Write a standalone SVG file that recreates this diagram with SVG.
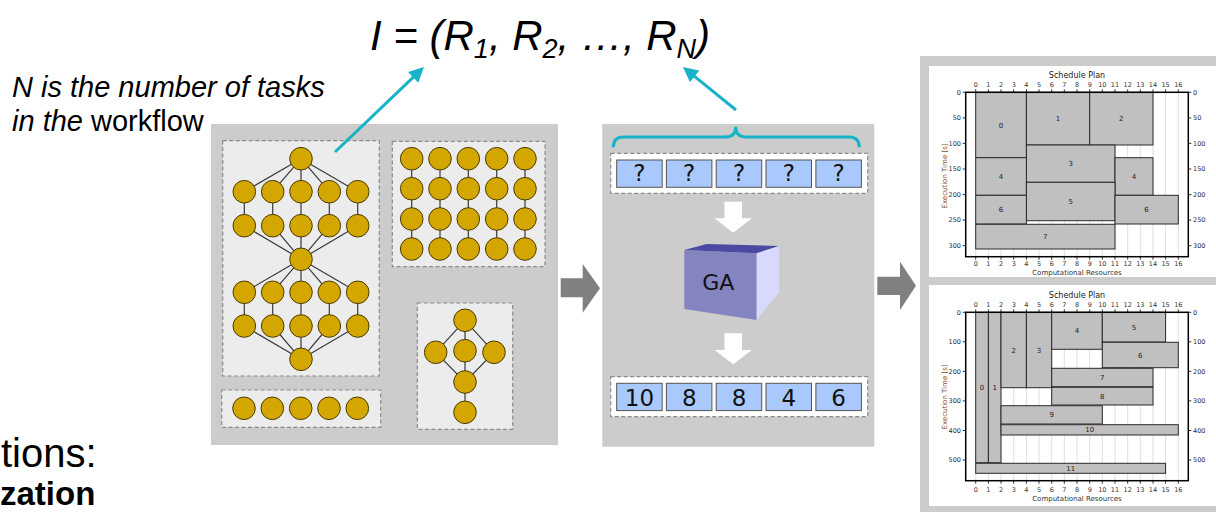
<svg xmlns="http://www.w3.org/2000/svg" width="1216" height="512" viewBox="0 0 1216 512">
  <defs>
    <style>
      .panel { fill: #cccccc; }
      .dbox { fill: #ececec; stroke: #8a8a8a; stroke-width: 1.2; stroke-dasharray: 4 2.5; }
      .wbox { fill: #ffffff; stroke: #8a8a8a; stroke-width: 1.2; stroke-dasharray: 4 2.5; }
      .task { fill: #d4a600; stroke: #4a3c00; stroke-width: 1; }
      .dep { fill: none; stroke: #3a3a3a; stroke-width: 1.2; }
      .cell { fill: #a9c9fc; stroke: #555555; stroke-width: 1; }
      .cellt { font-family: "DejaVu Sans", sans-serif; font-size: 23px; text-anchor: middle; fill: #111; }
      .grid { fill: none; stroke: #dedede; stroke-width: 1; }
      .bar { fill: #c0c0c0; stroke: #2a2a2a; stroke-width: 1; }
      .axis { fill: none; stroke: #000; stroke-width: 1.5; }
      .tick { fill: none; stroke: #000; stroke-width: 0.8; }
      .tl { font-family: "DejaVu Sans", sans-serif; font-size: 6.5px; fill: #333; text-anchor: middle; }
      .tll { font-family: "DejaVu Sans", sans-serif; font-size: 6.5px; fill: #2a2a40; text-anchor: end; }
      .tlr { font-family: "DejaVu Sans", sans-serif; font-size: 6.5px; fill: #2a2a40; text-anchor: start; }
      .bl { font-family: "DejaVu Sans", sans-serif; font-size: 7px; fill: #222; text-anchor: middle; }
      .ttl { font-family: "DejaVu Sans", sans-serif; font-size: 8px; fill: #222; text-anchor: middle; }
      .xl { font-family: "DejaVu Sans", sans-serif; font-size: 7px; fill: #333; text-anchor: middle; }
      .yl { font-family: "DejaVu Sans", sans-serif; font-size: 7px; fill: #8a4a2a; text-anchor: middle; }
      .cyan { fill: none; stroke: #17b3c9; stroke-width: 3; }
      .garrow { fill: #808080; }
      .warrow { fill: #ffffff; }
      .sans { font-family: "Liberation Sans", Arial, sans-serif; fill: #000; }
    </style>
    <marker id="cyanHead" viewBox="0 0 10 10" refX="7" refY="5" markerWidth="5" markerHeight="5" orient="auto" markerUnits="strokeWidth">
      <path d="M0,0 L10,5 L0,10 z" fill="#17b3c9"/>
    </marker>
  </defs>

  <rect x="0" y="0" width="1216" height="512" fill="#ffffff"/>

  <!-- formula and side notes -->
  <g id="formula">
    <text class="sans" x="370" y="50" font-size="42" font-style="italic">I = (R<tspan font-size="27" dy="8">1</tspan><tspan dy="-8">, R</tspan><tspan font-size="27" dy="8">2</tspan><tspan dy="-8">,  …, R</tspan><tspan font-size="27" dy="8">N</tspan><tspan dy="-8">)</tspan></text>
  </g>
  <g id="note">
    <text class="sans" x="12" y="97" font-size="29" font-style="italic">N is the number of tasks</text>
    <text class="sans" x="12" y="131" font-size="29"><tspan font-style="italic">in the</tspan> workflow</text>
  </g>
  <g id="page-text">
    <text class="sans" x="1" y="467" font-size="40">tions:</text>
    <text class="sans" x="0" y="505" font-size="33" font-weight="bold">zation</text>
  </g>

  <!-- panel 1: workflow shapes -->
  <g id="workflows">
    <rect class="panel" x="211" y="124" width="347" height="321"/>
    <rect class="dbox" x="222.7" y="140.7" width="156.6" height="235.3"/>
    <rect class="dbox" x="392.3" y="141.3" width="152.7" height="125.4"/>
    <rect class="dbox" x="221.7" y="390" width="159" height="37.3"/>
    <rect class="dbox" x="417.3" y="303" width="95.4" height="126.3"/>

    <g id="wf-diamond-chain">
      <path class="dep" d="M301,158.7L244.3,191.7M301,158.7L272.7,191.7M301,158.7L301,191.7M301,158.7L329.3,191.7M301,158.7L357.7,191.7
        M244.3,191.7V225.7M272.7,191.7V225.7M301,191.7V225.7M329.3,191.7V225.7M357.7,191.7V225.7
        M244.3,225.7L301,259.3M272.7,225.7L301,259.3M301,225.7L301,259.3M329.3,225.7L301,259.3M357.7,225.7L301,259.3
        M301,259.3L244.3,292.3M301,259.3L272.7,292.3M301,259.3L301,292.3M301,259.3L329.3,292.3M301,259.3L357.7,292.3
        M244.3,292.3V326M272.7,292.3V326M301,292.3V326M329.3,292.3V326M357.7,292.3V326
        M244.3,326L301,359.3M272.7,326L301,359.3M301,326L301,359.3M329.3,326L301,359.3M357.7,326L301,359.3"/>
      <circle class="task" cx="301" cy="158.7" r="11.3"/>
      <circle class="task" cx="244.3" cy="191.7" r="11.3"/>
      <circle class="task" cx="272.7" cy="191.7" r="11.3"/>
      <circle class="task" cx="301" cy="191.7" r="11.3"/>
      <circle class="task" cx="329.3" cy="191.7" r="11.3"/>
      <circle class="task" cx="357.7" cy="191.7" r="11.3"/>
      <circle class="task" cx="244.3" cy="225.7" r="11.3"/>
      <circle class="task" cx="272.7" cy="225.7" r="11.3"/>
      <circle class="task" cx="301" cy="225.7" r="11.3"/>
      <circle class="task" cx="329.3" cy="225.7" r="11.3"/>
      <circle class="task" cx="357.7" cy="225.7" r="11.3"/>
      <circle class="task" cx="301" cy="259.3" r="11.3"/>
      <circle class="task" cx="244.3" cy="292.3" r="11.3"/>
      <circle class="task" cx="272.7" cy="292.3" r="11.3"/>
      <circle class="task" cx="301" cy="292.3" r="11.3"/>
      <circle class="task" cx="329.3" cy="292.3" r="11.3"/>
      <circle class="task" cx="357.7" cy="292.3" r="11.3"/>
      <circle class="task" cx="244.3" cy="326" r="11.3"/>
      <circle class="task" cx="272.7" cy="326" r="11.3"/>
      <circle class="task" cx="301" cy="326" r="11.3"/>
      <circle class="task" cx="329.3" cy="326" r="11.3"/>
      <circle class="task" cx="357.7" cy="326" r="11.3"/>
      <circle class="task" cx="301" cy="359.3" r="11.3"/>
    </g>

    <g id="wf-chains">
      <path class="dep" d="M411.7,158.7V249M440,158.7V249M468.3,158.7V249M496.7,158.7V249M525,158.7V249"/>
      <circle class="task" cx="411.7" cy="158.7" r="11.3"/>
      <circle class="task" cx="440" cy="158.7" r="11.3"/>
      <circle class="task" cx="468.3" cy="158.7" r="11.3"/>
      <circle class="task" cx="496.7" cy="158.7" r="11.3"/>
      <circle class="task" cx="525" cy="158.7" r="11.3"/>
      <circle class="task" cx="411.7" cy="188.7" r="11.3"/>
      <circle class="task" cx="440" cy="188.7" r="11.3"/>
      <circle class="task" cx="468.3" cy="188.7" r="11.3"/>
      <circle class="task" cx="496.7" cy="188.7" r="11.3"/>
      <circle class="task" cx="525" cy="188.7" r="11.3"/>
      <circle class="task" cx="411.7" cy="219" r="11.3"/>
      <circle class="task" cx="440" cy="219" r="11.3"/>
      <circle class="task" cx="468.3" cy="219" r="11.3"/>
      <circle class="task" cx="496.7" cy="219" r="11.3"/>
      <circle class="task" cx="525" cy="219" r="11.3"/>
      <circle class="task" cx="411.7" cy="249" r="11.3"/>
      <circle class="task" cx="440" cy="249" r="11.3"/>
      <circle class="task" cx="468.3" cy="249" r="11.3"/>
      <circle class="task" cx="496.7" cy="249" r="11.3"/>
      <circle class="task" cx="525" cy="249" r="11.3"/>
    </g>

    <g id="wf-independent">
      <circle class="task" cx="244" cy="408.3" r="11.3"/>
      <circle class="task" cx="272.3" cy="408.3" r="11.3"/>
      <circle class="task" cx="300.7" cy="408.3" r="11.3"/>
      <circle class="task" cx="329" cy="408.3" r="11.3"/>
      <circle class="task" cx="357.3" cy="408.3" r="11.3"/>
    </g>

    <g id="wf-small">
      <path class="dep" d="M465,320.3L435.7,352.3M465,320.3V350.7M465,320.3L494,352.3M435.7,352.3L465,382M465,350.7V382M494,352.3L465,382M465,382V412.3"/>
      <circle class="task" cx="465" cy="320.3" r="11.3"/>
      <circle class="task" cx="435.7" cy="352.3" r="11.3"/>
      <circle class="task" cx="465" cy="350.7" r="11.3"/>
      <circle class="task" cx="494" cy="352.3" r="11.3"/>
      <circle class="task" cx="465" cy="382" r="11.3"/>
      <circle class="task" cx="465" cy="412.3" r="11.3"/>
    </g>
  </g>

  <!-- panel 2: encoding and GA -->
  <g id="encoding">
    <rect class="panel" x="602.3" y="124" width="272" height="322.7"/>
    <g id="unknown-vector">
      <rect class="wbox" x="610.7" y="153.3" width="257" height="40"/>
      <rect class="cell" x="616.7" y="160" width="45.5" height="27.3"/>
      <rect class="cell" x="666.4" y="160" width="45.5" height="27.3"/>
      <rect class="cell" x="716.2" y="160" width="45.5" height="27.3"/>
      <rect class="cell" x="766" y="160" width="45.5" height="27.3"/>
      <rect class="cell" x="815.9" y="160" width="45.5" height="27.3"/>
      <text class="cellt" x="639.4" y="181">?</text>
      <text class="cellt" x="689.2" y="181">?</text>
      <text class="cellt" x="739" y="181">?</text>
      <text class="cellt" x="788.8" y="181">?</text>
      <text class="cellt" x="838.6" y="181">?</text>
    </g>
    <path class="warrow" d="M724.5,201.7H742V218.3H752L733.2,232.7L714.5,218.3H724.5Z"/>
    <g id="ga">
      <polygon points="684.3,250 756.7,253.3 756.7,320 684.3,309" fill="#8484c0"/>
      <polygon points="684.3,250 756.7,253.3 779.3,246 706.7,244" fill="#4a4aa2"/>
      <polygon points="756.7,253.3 779.3,246 779.3,291.7 756.7,320" fill="#d9d9ff"/>
      <text x="718.3" y="290" font-family="DejaVu Sans, sans-serif" font-size="22" text-anchor="middle" fill="#111">GA</text>
    </g>
    <path class="warrow" d="M724.5,333.3H742V350H752L733.2,364.3L714.5,350H724.5Z"/>
    <g id="result-vector">
      <rect class="wbox" x="610.7" y="376.7" width="257" height="40"/>
      <rect class="cell" x="616.7" y="383.3" width="45.5" height="27.3"/>
      <rect class="cell" x="666.4" y="383.3" width="45.5" height="27.3"/>
      <rect class="cell" x="716.2" y="383.3" width="45.5" height="27.3"/>
      <rect class="cell" x="766" y="383.3" width="45.5" height="27.3"/>
      <rect class="cell" x="815.9" y="383.3" width="45.5" height="27.3"/>
      <text class="cellt" x="639.4" y="405.5">10</text>
      <text class="cellt" x="689.2" y="405.5">8</text>
      <text class="cellt" x="739" y="405.5">8</text>
      <text class="cellt" x="788.8" y="405.5">4</text>
      <text class="cellt" x="838.6" y="405.5">6</text>
    </g>
  </g>

  <!-- panel 3: resulting schedule plans -->
  <g id="schedules">
    <rect class="panel" x="920" y="56" width="296" height="456"/>

    <g id="plan-a">
      <rect x="929" y="66" width="287" height="211" fill="#ffffff"/>
      <path class="grid" d="M975.7,92.3V256.7M988.4,92.3V256.7M1001,92.3V256.7M1013.7,92.3V256.7M1026.4,92.3V256.7M1039,92.3V256.7M1051.7,92.3V256.7M1064.3,92.3V256.7M1077,92.3V256.7M1089.7,92.3V256.7M1102.3,92.3V256.7M1115,92.3V256.7M1127.7,92.3V256.7M1140.3,92.3V256.7M1153,92.3V256.7M1165.6,92.3V256.7M1178.3,92.3V256.7"/>
      <rect class="bar" x="975.7" y="92.3" width="50.7" height="65.4"/>
      <rect class="bar" x="1026.4" y="92.3" width="63.3" height="52.7"/>
      <rect class="bar" x="1089.7" y="92.3" width="63.3" height="52.7"/>
      <rect class="bar" x="1026.4" y="145" width="88.6" height="37.3"/>
      <rect class="bar" x="975.7" y="157.7" width="50.7" height="37.6"/>
      <rect class="bar" x="1115" y="157.7" width="38" height="37.6"/>
      <rect class="bar" x="1026.4" y="182.3" width="88.6" height="38.4"/>
      <rect class="bar" x="975.7" y="195.3" width="50.7" height="28.7"/>
      <rect class="bar" x="1115" y="195.3" width="63.3" height="28.7"/>
      <rect class="bar" x="975.7" y="224.3" width="139.3" height="24.7"/>
      <text class="bl" x="1001" y="127.5">0</text>
      <text class="bl" x="1058" y="121">1</text>
      <text class="bl" x="1121.3" y="121">2</text>
      <text class="bl" x="1070.7" y="166">3</text>
      <text class="bl" x="1001" y="179">4</text>
      <text class="bl" x="1134" y="179">4</text>
      <text class="bl" x="1070.7" y="204">5</text>
      <text class="bl" x="1001" y="212">6</text>
      <text class="bl" x="1146.6" y="212">6</text>
      <text class="bl" x="1045.3" y="239">7</text>
      <rect class="axis" x="965.7" y="92.3" width="222.6" height="164.4"/>
      <path class="tick" d="M975.7,92.3v-3M988.4,92.3v-3M1001,92.3v-3M1013.7,92.3v-3M1026.4,92.3v-3M1039,92.3v-3M1051.7,92.3v-3M1064.3,92.3v-3M1077,92.3v-3M1089.7,92.3v-3M1102.3,92.3v-3M1115,92.3v-3M1127.7,92.3v-3M1140.3,92.3v-3M1153,92.3v-3M1165.6,92.3v-3M1178.3,92.3v-3
        M975.7,256.7v3M988.4,256.7v3M1001,256.7v3M1013.7,256.7v3M1026.4,256.7v3M1039,256.7v3M1051.7,256.7v3M1064.3,256.7v3M1077,256.7v3M1089.7,256.7v3M1102.3,256.7v3M1115,256.7v3M1127.7,256.7v3M1140.3,256.7v3M1153,256.7v3M1165.6,256.7v3M1178.3,256.7v3
        M965.7,92.3h-3M965.7,117.9h-3M965.7,143.4h-3M965.7,169h-3M965.7,194.6h-3M965.7,220.1h-3M965.7,245.7h-3
        M1188.3,92.3h3M1188.3,117.9h3M1188.3,143.4h3M1188.3,169h3M1188.3,194.6h3M1188.3,220.1h3M1188.3,245.7h3"/>
      <text class="ttl" x="1077" y="78">Schedule Plan</text>
      <g class="tl">
        <text x="975.7" y="87">0</text><text x="988.4" y="87">1</text><text x="1001" y="87">2</text><text x="1013.7" y="87">3</text><text x="1026.4" y="87">4</text><text x="1039" y="87">5</text><text x="1051.7" y="87">6</text><text x="1064.3" y="87">7</text><text x="1077" y="87">8</text><text x="1089.7" y="87">9</text><text x="1102.3" y="87">10</text><text x="1115" y="87">11</text><text x="1127.7" y="87">12</text><text x="1140.3" y="87">13</text><text x="1153" y="87">14</text><text x="1165.6" y="87">15</text><text x="1178.3" y="87">16</text>
        <text x="975.7" y="266">0</text><text x="988.4" y="266">1</text><text x="1001" y="266">2</text><text x="1013.7" y="266">3</text><text x="1026.4" y="266">4</text><text x="1039" y="266">5</text><text x="1051.7" y="266">6</text><text x="1064.3" y="266">7</text><text x="1077" y="266">8</text><text x="1089.7" y="266">9</text><text x="1102.3" y="266">10</text><text x="1115" y="266">11</text><text x="1127.7" y="266">12</text><text x="1140.3" y="266">13</text><text x="1153" y="266">14</text><text x="1165.6" y="266">15</text><text x="1178.3" y="266">16</text>
      </g>
      <g class="tll">
        <text x="961" y="94.6">0</text><text x="961" y="120.2">50</text><text x="961" y="145.7">100</text><text x="961" y="171.3">150</text><text x="961" y="196.9">200</text><text x="961" y="222.4">250</text><text x="961" y="248">300</text>
      </g>
      <g class="tlr">
        <text x="1193" y="94.6">0</text><text x="1193" y="120.2">50</text><text x="1193" y="145.7">100</text><text x="1193" y="171.3">150</text><text x="1193" y="196.9">200</text><text x="1193" y="222.4">250</text><text x="1193" y="248">300</text>
      </g>
      <text class="xl" x="1077" y="275">Computational Resources</text>
      <text class="yl" x="0" y="0" transform="translate(946.5,176) rotate(-90)">Execution Time [s]</text>
    </g>

    <g id="plan-b">
      <rect x="929" y="285" width="287" height="221" fill="#ffffff"/>
      <path class="grid" d="M975.7,312.3V480.7M988.4,312.3V480.7M1001,312.3V480.7M1013.7,312.3V480.7M1026.4,312.3V480.7M1039,312.3V480.7M1051.7,312.3V480.7M1064.3,312.3V480.7M1077,312.3V480.7M1089.7,312.3V480.7M1102.3,312.3V480.7M1115,312.3V480.7M1127.7,312.3V480.7M1140.3,312.3V480.7M1153,312.3V480.7M1165.6,312.3V480.7M1178.3,312.3V480.7"/>
      <rect class="bar" x="975.7" y="312.3" width="12.7" height="150.4"/>
      <rect class="bar" x="988.4" y="312.3" width="12.6" height="150.4"/>
      <rect class="bar" x="1001" y="312.3" width="25.4" height="75.4"/>
      <rect class="bar" x="1026.4" y="312.3" width="25.3" height="75.4"/>
      <rect class="bar" x="1051.7" y="312.3" width="50.6" height="37"/>
      <rect class="bar" x="1102.3" y="312.3" width="63.3" height="29.7"/>
      <rect class="bar" x="1102.3" y="342.3" width="76" height="25.4"/>
      <rect class="bar" x="1051.7" y="368.3" width="101.3" height="18.4"/>
      <rect class="bar" x="1051.7" y="387.3" width="101.3" height="17.7"/>
      <rect class="bar" x="1001" y="405.7" width="101.3" height="18.3"/>
      <rect class="bar" x="1001" y="424.7" width="177.3" height="10.3"/>
      <rect class="bar" x="975.7" y="463.3" width="189.9" height="10"/>
      <text class="bl" x="982" y="390">0</text>
      <text class="bl" x="994.7" y="390">1</text>
      <text class="bl" x="1013.7" y="352.5">2</text>
      <text class="bl" x="1039" y="352.5">3</text>
      <text class="bl" x="1077" y="333.3">4</text>
      <text class="bl" x="1134" y="329.7">5</text>
      <text class="bl" x="1140.3" y="357.5">6</text>
      <text class="bl" x="1102.3" y="380">7</text>
      <text class="bl" x="1102.3" y="398.7">8</text>
      <text class="bl" x="1051.7" y="417.4">9</text>
      <text class="bl" x="1089.7" y="432.4">10</text>
      <text class="bl" x="1070.7" y="470.8">11</text>
      <rect class="axis" x="965.7" y="312.3" width="222.6" height="168.4"/>
      <path class="tick" d="M975.7,312.3v-3M988.4,312.3v-3M1001,312.3v-3M1013.7,312.3v-3M1026.4,312.3v-3M1039,312.3v-3M1051.7,312.3v-3M1064.3,312.3v-3M1077,312.3v-3M1089.7,312.3v-3M1102.3,312.3v-3M1115,312.3v-3M1127.7,312.3v-3M1140.3,312.3v-3M1153,312.3v-3M1165.6,312.3v-3M1178.3,312.3v-3
        M975.7,480.7v3M988.4,480.7v3M1001,480.7v3M1013.7,480.7v3M1026.4,480.7v3M1039,480.7v3M1051.7,480.7v3M1064.3,480.7v3M1077,480.7v3M1089.7,480.7v3M1102.3,480.7v3M1115,480.7v3M1127.7,480.7v3M1140.3,480.7v3M1153,480.7v3M1165.6,480.7v3M1178.3,480.7v3
        M965.7,312.3h-3M965.7,341.8h-3M965.7,371.4h-3M965.7,400.9h-3M965.7,430.5h-3M965.7,460h-3
        M1188.3,312.3h3M1188.3,341.8h3M1188.3,371.4h3M1188.3,400.9h3M1188.3,430.5h3M1188.3,460h3"/>
      <text class="ttl" x="1077" y="298">Schedule Plan</text>
      <g class="tl">
        <text x="975.7" y="307">0</text><text x="988.4" y="307">1</text><text x="1001" y="307">2</text><text x="1013.7" y="307">3</text><text x="1026.4" y="307">4</text><text x="1039" y="307">5</text><text x="1051.7" y="307">6</text><text x="1064.3" y="307">7</text><text x="1077" y="307">8</text><text x="1089.7" y="307">9</text><text x="1102.3" y="307">10</text><text x="1115" y="307">11</text><text x="1127.7" y="307">12</text><text x="1140.3" y="307">13</text><text x="1153" y="307">14</text><text x="1165.6" y="307">15</text><text x="1178.3" y="307">16</text>
        <text x="975.7" y="491.5">0</text><text x="988.4" y="491.5">1</text><text x="1001" y="491.5">2</text><text x="1013.7" y="491.5">3</text><text x="1026.4" y="491.5">4</text><text x="1039" y="491.5">5</text><text x="1051.7" y="491.5">6</text><text x="1064.3" y="491.5">7</text><text x="1077" y="491.5">8</text><text x="1089.7" y="491.5">9</text><text x="1102.3" y="491.5">10</text><text x="1115" y="491.5">11</text><text x="1127.7" y="491.5">12</text><text x="1140.3" y="491.5">13</text><text x="1153" y="491.5">14</text><text x="1165.6" y="491.5">15</text><text x="1178.3" y="491.5">16</text>
      </g>
      <g class="tll">
        <text x="961" y="314.6">0</text><text x="961" y="344.1">100</text><text x="961" y="373.7">200</text><text x="961" y="403.2">300</text><text x="961" y="432.8">400</text><text x="961" y="462.3">500</text>
      </g>
      <g class="tlr">
        <text x="1193" y="314.6">0</text><text x="1193" y="344.1">100</text><text x="1193" y="373.7">200</text><text x="1193" y="403.2">300</text><text x="1193" y="432.8">400</text><text x="1193" y="462.3">500</text>
      </g>
      <text class="xl" x="1077" y="500.5">Computational Resources</text>
      <text class="yl" x="0" y="0" transform="translate(946.5,397) rotate(-90)">Execution Time [s]</text>
    </g>
  </g>

  <!-- connectors -->
  <g id="connectors">
    <path class="cyan" d="M335,152L420.7,70.1" marker-end="url(#cyanHead)"/>
    <path class="cyan" d="M736,110L686.5,69.8" marker-end="url(#cyanHead)"/>
    <path class="cyan" d="M613.3,147.3Q613.3,137 623.5,137H725.5Q735.7,137 735.7,126.7Q735.7,137 745.9,137H849.1Q859.3,137 859.3,147.3"/>
    <path class="garrow" d="M560.7,278.3H582.7V264L600,288.3L582.7,312.7V297.3H560.7Z"/>
    <path class="garrow" d="M877.3,276.7H900V261.7L916,285.7L900,310V295H877.3Z"/>
  </g>
</svg>
